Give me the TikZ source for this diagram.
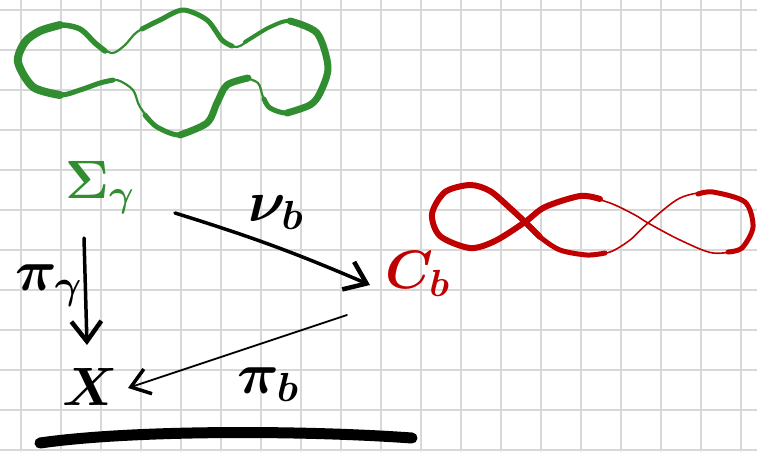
\RequirePackage{fix-cm}
\documentclass[tikz,border=0pt]{standalone}
\usepackage{amsmath, amssymb}
\usetikzlibrary{positioning, arrows.meta}
\definecolor{inkgreen}{RGB}{48,142,48}
\definecolor{inkred}{RGB}{192,0,0}
\definecolor{gridgray}{RGB}{216,216,216}

\begin{document}
\begin{tikzpicture}[x=1pt, y=-1pt, line cap=round, line join=round,
    gridline/.style={gridgray, line width=1.4pt},
    symb/.style={inner sep=0pt, anchor=base west, font=\fontsize{54}{60}\selectfont\boldmath},
    lab/.style={inner sep=0pt, anchor=base west, font=\fontsize{58}{64}\selectfont\boldmath},
    map/.style={line width=3.5pt, -{Straight Barb[length=20pt, width=30pt, line width=4.5pt]}},
    proj/.style={line width=1.8pt, -{Straight Barb[length=18pt, width=26pt, line width=3.5pt]}}]
    \useasboundingbox (0,0) rectangle (757,451);
    \fill[white] (0,0) rectangle (757,451);

    % Grid paper
    \foreach \gx in {21,61,...,741}
        \draw[gridline] (\gx,0) -- (\gx,451);
    \foreach \gy in {10,50,...,450}
        \draw[gridline] (0,\gy) -- (757,\gy);

    % Green surface outline
    \draw[inkgreen, line width=2.2pt] plot[smooth cycle] coordinates {(18,62) (25,42) (40,31) (60,25) (80,29) (95,43) (112,53) (125,45) (137,32) (160,20) (183,10) (207,20) (222,40) (237,47) (253,37) (270,27) (290,21) (317,33) (328,67) (320,93) (310,105) (287,113) (270,108) (263,97) (258,83) (243,78) (227,85) (217,103) (207,123) (180,135) (157,127) (140,107) (133,90) (117,80) (100,83) (80,90) (60,95) (33,87)};
    \draw[inkgreen, line width=8pt] plot[smooth] coordinates {(60,95) (33,87) (18,62) (25,42) (40,31) (60,25)};
    \draw[inkgreen, line width=5.5pt] plot[smooth] coordinates {(40,31) (60,25) (80,29) (95,43) (105,51)};
    \draw[inkgreen, line width=5pt] plot[smooth] coordinates {(113,80) (100,83) (80,90) (60,95) (33,87)};
    \draw[inkgreen, line width=5pt] plot[smooth] coordinates {(142,29) (160,20) (183,10) (207,20) (222,40) (232,46)};
    \draw[inkgreen, line width=4pt] plot[smooth] coordinates {(245,42) (253,37) (270,27) (290,21) (317,33)};
    \draw[inkgreen, line width=7pt] plot[smooth] coordinates {(290,21) (317,33) (328,67) (320,93) (310,105) (287,113)};
    \draw[inkgreen, line width=5pt] plot[smooth] coordinates {(310,105) (287,113) (270,108) (264,99)};
    \draw[inkgreen, line width=7pt] plot[smooth] coordinates {(248,78) (227,85) (217,103) (207,123) (180,135)};
    \draw[inkgreen, line width=5pt] plot[smooth] coordinates {(207,123) (180,135) (157,127) (145,115)};

    % Red curve
    \draw[inkred, line width=1.6pt] plot[smooth cycle] coordinates {(525,222) (545,207) (580,196) (610,203) (635,215) (648,223) (680,240) (713,253) (742,248) (753,227) (745,202) (713,192) (680,198) (648,223) (630,240) (610,252) (587,255) (560,250) (540,237) (525,222) (510,208) (490,191) (470,185) (445,192) (432,214) (440,236) (470,248) (495,241)};
    \draw[inkred, line width=6pt] plot[smooth] coordinates {(540,237) (525,222) (510,208) (490,191) (470,185) (445,192) (432,214) (440,236) (470,248) (495,241) (525,222) (545,207) (580,196) (600,199)};
    \draw[inkred, line width=5pt] plot[smooth] coordinates {(605,253) (587,255) (560,250) (540,237) (525,222)};
    \draw[inkred, line width=5pt] plot[smooth] coordinates {(728,252) (742,248) (753,227) (745,202) (713,192) (698,194)};

    % Objects
    \node (sig) at (65,198) [symb, text=inkgreen] {$\Sigma_\gamma$};
    \node (cb) at (385,288) [symb, text=inkred] {$C_b$};
    \node (x) at (62,405) [symb] {$X$};

    % Maps
    \draw[map] ([xshift=110pt, yshift=-15pt]sig.base west) to[bend left=3] ([xshift=-15pt, yshift=3pt]cb.base west);
    \draw[map] ([xshift=19pt, yshift=-40pt]sig.base west) -- ([xshift=25pt, yshift=60pt]x.base west);
    \draw[proj] ([xshift=-38pt, yshift=-27pt]cb.base west) -- ([xshift=66pt, yshift=17pt]x.base west);
    \node (nu) at (248,221) [lab] {$\nu_b$};
    \node (pig) at (15,290) [lab] {$\pi_\gamma$};
    \node (pib) at (237,393) [lab] {$\pi_b$};

    % Underline
    \draw[line width=11pt] (40,443) .. controls (130,430) and (300,430) .. (412,438);
\end{tikzpicture}
\end{document}
